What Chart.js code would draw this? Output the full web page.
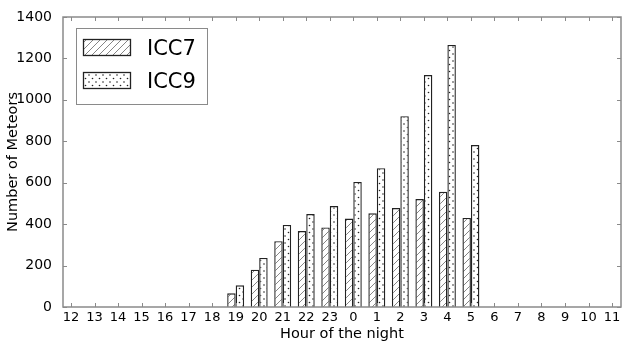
<!DOCTYPE html>
<html>
<head>
<meta charset="utf-8">
<script src="https://cdn.jsdelivr.net/npm/chart.js@4"></script>
<style>
  html, body { margin: 0; padding: 0; background: #fff; }
  #wrap { width: 622px; height: 344px; }
</style>
</head>
<body>
<div id="wrap"><canvas id="c" width="622" height="344"></canvas></div>
<script>
// ---- data ----
const hours = ['12','13','14','15','16','17','18','19','20','21','22','23','0','1','2','3','4','5','6','7','8','9','10','11'];
const icc7  = [0,0,0,0,0,0,0,66,180,318,367,384,427,452,478,521,556,430,0,0,0,0,0,0];
const icc9  = [0,0,0,0,0,0,0,105,237,396,449,487,604,670,921,1120,1265,782,0,0,0,0,0,0];
const seriesNames = ['ICC7','ICC9'];
const yTicks = [0,200,400,600,800,1000,1200,1400];

// ---- hatch patterns ----
function hatchPattern() {
  const s = 7, c = document.createElement('canvas');
  c.width = s; c.height = s;
  const g = c.getContext('2d');
  g.fillStyle = '#fff'; g.fillRect(0,0,s,s);
  g.strokeStyle = '#666'; g.lineWidth = 0.8;
  g.beginPath();
  g.moveTo(0, s); g.lineTo(s, 0);
  g.moveTo(-1, 1); g.lineTo(1, -1);
  g.moveTo(s-1, s+1); g.lineTo(s+1, s-1);
  g.stroke();
  return document.getElementById('c').getContext('2d').createPattern(c, 'repeat');
}
function dotPattern() {
  const s = 7, c = document.createElement('canvas');
  c.width = s; c.height = s;
  const g = c.getContext('2d');
  g.fillStyle = '#fff'; g.fillRect(0,0,s,s);
  g.fillStyle = '#222';
  g.beginPath(); g.arc(1.5, 1.5, 0.8, 0, Math.PI*2); g.fill();
  g.beginPath(); g.arc(5, 5, 0.8, 0, Math.PI*2); g.fill();
  return document.getElementById('c').getContext('2d').createPattern(c, 'repeat');
}
const pat7 = hatchPattern();
const pat9 = dotPattern();
const patterns = [pat7, pat9];

const FRAME = '#8a8a8a';
const FONT = '"DejaVu Sans", sans-serif';

const framePlugin = {
  id: 'frame',
  afterDatasetsDraw(chart) {
    const {ctx, chartArea: a, scales} = chart;
    ctx.save();
    ctx.strokeStyle = FRAME;
    ctx.lineWidth = 1.5;
    ctx.strokeRect(a.left, a.top, a.right - a.left, a.bottom - a.top);
    ctx.lineWidth = 1;
    ctx.beginPath();
    hours.forEach((h, i) => {
      const x = Math.round(scales.x.getPixelForValue(i)) + 0.5;
      ctx.moveTo(x, a.bottom); ctx.lineTo(x, a.bottom - 4);
      ctx.moveTo(x, a.top); ctx.lineTo(x, a.top + 4);
    });
    yTicks.forEach(v => {
      const y = Math.round(scales.y.getPixelForValue(v)) + 0.5;
      ctx.moveTo(a.left, y); ctx.lineTo(a.left + 4, y);
      ctx.moveTo(a.right, y); ctx.lineTo(a.right - 4, y);
    });
    ctx.stroke();
    ctx.restore();
  },
  afterDraw(chart) {
    const ctx = chart.ctx;
    ctx.save();
    // legend box
    ctx.fillStyle = '#fff';
    ctx.fillRect(76, 28, 131, 76);
    ctx.strokeStyle = FRAME;
    ctx.lineWidth = 1;
    ctx.strokeRect(76.5, 28.5, 131, 76);
    const rows = [39.5, 72.5];
    seriesNames.forEach((name, i) => {
      ctx.fillStyle = patterns[i];
      ctx.fillRect(83.5, rows[i], 47, 16);
      ctx.strokeStyle = '#222';
      ctx.lineWidth = 1.3;
      ctx.strokeRect(83.5, rows[i], 47, 16);
      ctx.fillStyle = '#000';
      ctx.font = '21px ' + FONT;
      ctx.textBaseline = 'alphabetic';
      ctx.textAlign = 'left';
      ctx.fillText(name, 147, rows[i] + 15.5);
    });
    ctx.restore();
  }
};

new Chart(document.getElementById('c'), {
  type: 'bar',
  data: {
    datasets: [
      { label: seriesNames[0], data: icc7.map((v, i) => ({x: i, y: v})),
        backgroundColor: pat7, borderColor: '#222', borderWidth: 1.4, borderSkipped: 'start' },
      { label: seriesNames[1], data: icc9.map((v, i) => ({x: i, y: v})),
        backgroundColor: pat9, borderColor: '#222', borderWidth: 1.4, borderSkipped: 'start' }
    ]
  },
  options: {
    responsive: false,
    animation: false,
    devicePixelRatio: 1,
    categoryPercentage: 0.72,
    barPercentage: 1.0,
    layout: { padding: { left: 0, top: 17, right: 1, bottom: 0 } },
    plugins: { legend: { display: false }, tooltip: { enabled: false } },
    scales: {
      x: {
        type: 'linear',
        offset: false,
        min: -0.34, max: 23.38,
        grid: { display: false, offset: false },
        border: { display: false },
        afterBuildTicks: s => { s.ticks = hours.map((h, i) => ({ value: i })); },
        afterFit: s => { s.height = 37; },
        ticks: {
          autoSkip: false, maxRotation: 0, padding: -5,
          color: '#000', font: { family: FONT, size: 13 },
          callback: v => hours[v]
        },
        title: { display: true, text: 'Hour of the night', color: '#000',
                 font: { family: FONT, size: 14.5 }, padding: { top: 0, bottom: 1 } }
      },
      y: {
        min: 0, max: 1400,
        grid: { display: false },
        border: { display: false },
        afterBuildTicks: s => { s.ticks = yTicks.map(v => ({ value: v })); },
        afterFit: s => { s.width = 63; },
        ticks: { padding: 3, color: '#000', font: { family: FONT, size: 14 },
                 callback: v => String(v) },
        title: { display: true, text: 'Number of Meteors', color: '#000',
                 font: { family: FONT, size: 14.5 }, padding: { top: 5, bottom: 0 } }
      }
    }
  },
  plugins: [framePlugin]
});
</script>
</body>
</html>
